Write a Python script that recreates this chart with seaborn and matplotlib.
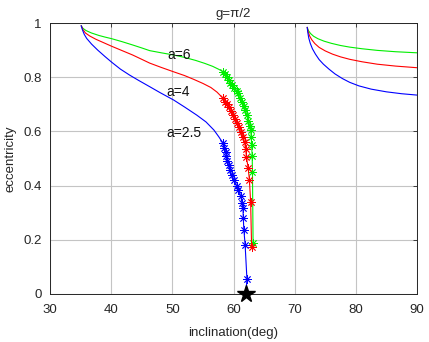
import matplotlib
matplotlib.use("Agg")
import matplotlib.pyplot as plt
import seaborn as sns

sns.set_style("white")
plt.rcParams['font.family'] = ['Liberation Sans', 'DejaVu Sans']

# ---- data ----
labels = ["a=6", "a=4", "a=2.5"]
colors = ["#00ee00", "#ff0000", "#0000ff"]

# left branch, plain line
g_left_x = [35.1, 35.4, 35.9, 36.8, 38.0, 39.0, 40.1, 41.8, 43.5, 45.0, 46.3, 48.2, 50.2,
            52.0, 53.8, 55.3, 56.6, 57.6, 58.3]
g_left_y = [0.990, 0.980, 0.972, 0.963, 0.954, 0.948, 0.942, 0.931, 0.919, 0.908, 0.898, 0.890, 0.882,
            0.873, 0.862, 0.851, 0.840, 0.829, 0.820]
r_left_x = [35.1, 35.4, 35.8, 36.5, 37.5, 38.8, 40.1, 41.8, 43.5, 45.0, 46.3, 48.2, 50.2,
            52.0, 53.5, 55.0, 56.3, 57.3, 58.3]
r_left_y = [0.990, 0.975, 0.963, 0.952, 0.940, 0.927, 0.914, 0.898, 0.882, 0.866, 0.852, 0.836, 0.820,
            0.806, 0.792, 0.777, 0.762, 0.745, 0.722]
b_left_x = [35.1, 35.3, 35.6, 36.0, 36.8, 37.8, 39.0, 40.1, 41.5, 43.0, 44.5, 46.3, 48.0,
            50.2, 52.0, 54.0, 55.5, 56.8, 57.6, 58.3]
b_left_y = [0.990, 0.975, 0.958, 0.943, 0.922, 0.900, 0.876, 0.855, 0.830, 0.808, 0.788, 0.765, 0.743,
            0.716, 0.690, 0.660, 0.635, 0.605, 0.580, 0.556]

# marked section (asterisks)
g_mark_x = [58.3, 58.6, 58.9, 59.2, 59.5, 59.8, 60.1, 60.5, 60.8, 61.1, 61.4, 61.7, 61.9,
            62.2, 62.45, 62.65, 62.8, 62.9, 62.96, 63.05, 63.1, 63.2]
g_mark_y = [0.820, 0.810, 0.800, 0.790, 0.780, 0.770, 0.760, 0.750, 0.740, 0.725, 0.710, 0.695, 0.679,
            0.660, 0.640, 0.620, 0.605, 0.580, 0.550, 0.510, 0.451, 0.190]
r_mark_x = [58.3, 58.6, 58.9, 59.2, 59.6, 59.95, 60.3, 60.6, 60.95, 61.3, 61.55, 61.8, 62.0,
            62.1, 62.4, 62.6, 62.8, 62.96]
r_mark_y = [0.722, 0.710, 0.700, 0.690, 0.675, 0.660, 0.645, 0.630, 0.615, 0.599, 0.580, 0.560, 0.535,
            0.507, 0.465, 0.421, 0.340, 0.175]
b_mark_x = [58.3, 58.5, 58.7, 58.85, 59.0, 59.2, 59.4, 59.7, 60.1, 60.5, 60.8, 61.2, 61.4,
            61.55, 61.6, 61.7, 61.9, 62.2]
b_mark_y = [0.556, 0.540, 0.525, 0.510, 0.490, 0.475, 0.458, 0.440, 0.420, 0.400, 0.384, 0.360, 0.336,
            0.316, 0.279, 0.236, 0.181, 0.054]

# right branch
g_right_x = [72.05, 72.25, 72.6, 73.1, 73.8, 74.8, 76.0, 77.5, 79.0, 81.0, 83.5, 86.5, 90.0]
g_right_y = [0.984, 0.972, 0.961, 0.951, 0.942, 0.933, 0.925, 0.917, 0.911, 0.905, 0.899, 0.894, 0.890]
r_right_x = [72.05, 72.2, 72.45, 72.8, 73.3, 74.0, 75.0, 76.2, 77.5, 79.0, 81.0, 83.5, 86.5, 90.0]
r_right_y = [0.984, 0.968, 0.952, 0.938, 0.924, 0.910, 0.897, 0.885, 0.875, 0.866, 0.857, 0.848, 0.841, 0.835]
b_right_x = [72.05, 72.15, 72.3, 72.55, 72.9, 73.4, 74.0, 74.7, 75.6, 76.6, 77.8, 79.0, 80.5,
             82.5, 85.0, 87.5, 90.0]
b_right_y = [0.984, 0.965, 0.945, 0.925, 0.905, 0.885, 0.865, 0.848, 0.830, 0.812, 0.795, 0.781, 0.768,
             0.756, 0.746, 0.739, 0.734]

star_x = [62.0]
star_y = [0.0]

label_x = [49.2, 49.1, 49.0]
label_y = [0.882, 0.744, 0.594]

xticks = [30, 40, 50, 60, 70, 80, 90]
yticks = [0, 0.2, 0.4, 0.6, 0.8, 1.0]
yticklabels = ["0", "0.2", "0.4", "0.6", "0.8", "1"]

# ---- figure ----
fig = plt.figure(figsize=(4.29, 3.42), dpi=100)
ax = fig.add_axes([50/429, 48/342, 367/429, 271/342])

lefts = [(g_left_x, g_left_y), (r_left_x, r_left_y), (b_left_x, b_left_y)]
marks = [(g_mark_x, g_mark_y), (r_mark_x, r_mark_y), (b_mark_x, b_mark_y)]
rights = [(g_right_x, g_right_y), (r_right_x, r_right_y), (b_right_x, b_right_y)]

ast = (8, 2, 0)
for (lx, ly), (mx, my), (rx, ry), c in zip(lefts, marks, rights, colors):
    sns.lineplot(x=lx, y=ly, sort=False, estimator=None, color=c, lw=0.8, ax=ax)
    sns.lineplot(x=mx, y=my, sort=False, estimator=None, color=c, lw=0.8,
                 marker=ast, markersize=6, markeredgewidth=0.6, markeredgecolor=c, ax=ax)
    sns.lineplot(x=rx, y=ry, sort=False, estimator=None, color=c, lw=0.8, ax=ax)

# blue line to star
sns.lineplot(x=[b_mark_x[-1], star_x[0]], y=[b_mark_y[-1], star_y[0]], sort=False,
             estimator=None, color=colors[2], lw=0.8, ax=ax)
ax.plot(star_x, star_y, marker="*", color="black", markersize=13, ls="none",
        clip_on=False, zorder=10)

for t, x, y in zip(labels, label_x, label_y):
    ax.text(x, y, t, fontsize=10, va="center", ha="left", color="#111111")

ax.set_xlim(30, 90)
ax.set_ylim(0, 1)
ax.set_xticks(xticks)
ax.set_yticks(yticks)
ax.set_yticklabels(yticklabels)
ax.grid(True, color="#c4c4c4", lw=0.8)
ax.set_axisbelow(True)
for s in ax.spines.values():
    s.set_color("#262626")
    s.set_linewidth(0.7)
ax.tick_params(direction="in", length=3, width=0.6, labelsize=9.5, colors="#262626",
               top=True, right=True)
ax.tick_params(axis="x", pad=7)
ax.tick_params(axis="y", pad=6)
ax.set_xlabel("inclination(deg)", fontsize=9.5, color="#262626", labelpad=8)
ax.set_ylabel("eccentricity", fontsize=9.5, color="#262626", labelpad=5)
ax.set_title("g=\u03c0/2", fontsize=9.5, color="#262626", pad=4)

fig.savefig("out.png", dpi=100)
